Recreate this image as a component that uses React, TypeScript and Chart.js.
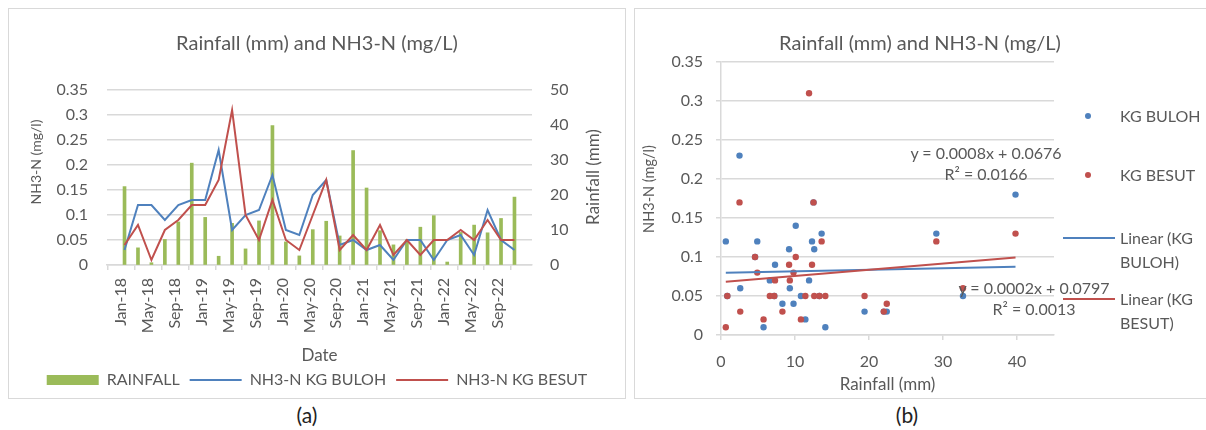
import React, { useEffect, useRef } from "react";
import { Chart, registerables } from "chart.js";

Chart.register(...registerables);

// ---------- DATA ----------
const dates = [
  "Jan-18", "Mar-18", "May-18", "Jul-18", "Sep-18", "Nov-18",
  "Jan-19", "Mar-19", "May-19", "Jul-19", "Sep-19", "Nov-19",
  "Jan-20", "Mar-20", "May-20", "Jul-20", "Sep-20", "Nov-20",
  "Jan-21", "Mar-21", "May-21", "Jul-21", "Sep-21", "Nov-21",
  "Jan-22", "Mar-22", "May-22", "Jul-22", "Sep-22", "Nov-22",
];
const rainfall = [
  22.4, 4.9, 0.65, 7.3, 12.3, 29.1,
  13.6, 2.5, 11.9, 4.6, 12.6, 39.8,
  6.6, 2.6, 10.1, 12.5, 8.3, 32.7,
  22.0, 9.8, 5.75, 7.2, 10.8, 14.1,
  0.85, 9.3, 11.4, 9.2, 13.3, 19.4,
];
const nh3Buloh = [
  0.03, 0.12, 0.12, 0.09, 0.12, 0.13,
  0.13, 0.23, 0.07, 0.10, 0.11, 0.18,
  0.07, 0.06, 0.14, 0.17, 0.04, 0.05,
  0.03, 0.04, 0.01, 0.05, 0.05, 0.01,
  0.05, 0.06, 0.02, 0.11, 0.05, 0.03,
];
const nh3Besut = [
  0.04, 0.08, 0.01, 0.07, 0.09, 0.12,
  0.12, 0.17, 0.31, 0.10, 0.05, 0.13,
  0.05, 0.03, 0.10, 0.17, 0.03, 0.06,
  0.03, 0.08, 0.02, 0.05, 0.02, 0.05,
  0.05, 0.07, 0.05, 0.09, 0.05, 0.05,
];
const dateTickLabels = [
  "Jan-18", "May-18", "Sep-18", "Jan-19", "May-19", "Sep-19", "Jan-20", "May-20",
  "Sep-20", "Jan-21", "May-21", "Sep-21", "Jan-22", "May-22", "Sep-22",
];
const rainTicks = [0, 10, 20, 30, 40];
const trendBuloh = { slope: 0.0002, intercept: 0.0797, r2: "0.0013" };
const trendBesut = { slope: 0.0008, intercept: 0.0676, r2: "0.0166" };

// ---------- STYLE ----------
const FONT = "Lato, 'Noto Sans', sans-serif";
const TEXT = "#595959";
const GRID = "#D9D9D9";
const GREEN = "#9BBB59";
const BLUE = "#4F81BD";
const RED = "#C0504D";
const TITLE = "Rainfall (mm) and NH3-N (mg/L)";

const MONTHS = ["Jan", "Feb", "Mar", "Apr", "May", "Jun", "Jul", "Aug", "Sep", "Oct", "Nov", "Dec"];
const monthIndex = (label: string) => {
  const [m, y] = label.split("-");
  return (Number(y) - 18) * 12 + MONTHS.indexOf(m);
};
const fmtNum = (v: number) => String(Number(Number(v).toFixed(2)));

Chart.defaults.font.family = FONT;
Chart.defaults.color = TEXT;

function ChartA() {
  const ref = useRef<HTMLCanvasElement | null>(null);
  useEffect(() => {
    if (!ref.current) return;
    const chart = new Chart(ref.current, {
      type: "bar",
      data: {
        datasets: [
          {
            type: "bar",
            label: "RAINFALL",
            data: dates.map((d, i) => ({ x: monthIndex(d) + 0.5, y: rainfall[i] })),
            backgroundColor: GREEN,
            borderWidth: 0,
            barThickness: 3,
            yAxisID: "y1",
            order: 3,
          },
          {
            type: "line",
            label: "NH3-N KG BULOH",
            data: dates.map((d, i) => ({ x: monthIndex(d) + 0.5, y: nh3Buloh[i] })),
            borderColor: BLUE,
            backgroundColor: BLUE,
            borderWidth: 2,
            pointRadius: 0,
            tension: 0,
            yAxisID: "y",
            order: 2,
          },
          {
            type: "line",
            label: "NH3-N KG BESUT",
            data: dates.map((d, i) => ({ x: monthIndex(d) + 0.5, y: nh3Besut[i] })),
            borderColor: RED,
            backgroundColor: RED,
            borderWidth: 2,
            pointRadius: 0,
            tension: 0,
            yAxisID: "y",
            order: 1,
          },
        ],
      } as any,
      options: {
        animation: false,
        responsive: false,
        maintainAspectRatio: false,
        layout: { padding: 0 },
        plugins: {
          tooltip: { enabled: false },
          title: {
            display: true,
            text: TITLE,
            color: TEXT,
            font: { family: FONT, size: 20, weight: "normal" },
            padding: { top: 24, bottom: 34 },
          },
          legend: {
            position: "bottom",
            labels: {
              usePointStyle: true,
              pointStyleWidth: 52,
              boxHeight: 10,
              padding: 10,
              color: TEXT,
              font: { family: FONT, size: 16 },
              generateLabels: (c: any) => {
                const items = (Chart.defaults.plugins.legend.labels as any).generateLabels(c);
                items.sort((a: any, b: any) => a.datasetIndex - b.datasetIndex);
                items.forEach((it: any) => {
                  if (it.datasetIndex === 0) {
                    it.pointStyle = "rect";
                    it.fillStyle = GREEN;
                    it.lineWidth = 0;
                  } else {
                    it.pointStyle = "line";
                    it.strokeStyle = it.datasetIndex === 1 ? BLUE : RED;
                    it.lineWidth = 2;
                  }
                });
                return items;
              },
            },
          },
        },
        scales: {
          x: {
            type: "linear",
            min: 0,
            max: 59,
            afterBuildTicks: (s: any) => {
              s.ticks = dateTickLabels.map((l) => ({ value: monthIndex(l) }));
            },
            ticks: {
              autoSkip: false,
              minRotation: 90,
              maxRotation: 90,
              padding: 8,
              color: TEXT,
              font: { family: FONT, size: 16 },
              callback: (v: any) => {
                const lab = dateTickLabels.find((l) => monthIndex(l) === v);
                return lab ?? "";
              },
            },
            grid: { drawOnChartArea: false, drawTicks: true, tickLength: 5, color: GRID, lineWidth: 1.5 },
            border: { display: true, color: GRID, width: 1.5 },
            title: {
              display: true,
              text: "Date",
              color: TEXT,
              font: { family: FONT, size: 17 },
              padding: { top: 0, bottom: -4 },
            },
            afterFit: (s: any) => {
              s.height = 97;
            },
          },
          y: {
            position: "left",
            min: 0,
            max: 0.35,
            ticks: {
              stepSize: 0.05,
              padding: 19,
              color: TEXT,
              font: { family: FONT, size: 16 },
              callback: (v: any) => fmtNum(v),
            },
            grid: { color: GRID, lineWidth: 1.5, drawTicks: false },
            border: { display: false },
            title: { display: false },
            afterFit: (s: any) => {
              s.width = 99;
            },
          },
          y1: {
            position: "right",
            min: 0,
            max: 50,
            ticks: {
              stepSize: 10,
              padding: 18,
              color: TEXT,
              font: { family: FONT, size: 16 },
            },
            grid: { drawOnChartArea: false, drawTicks: false },
            border: { display: false },
            title: { display: false },
            afterFit: (s: any) => {
              s.width = 94;
            },
          },
        },
      } as any,
    });
    return () => chart.destroy();
  }, []);
  return <canvas ref={ref} width={618} height={390} style={{ position: "absolute", left: 8, top: 8 }} />;
}

function ChartB() {
  const ref = useRef<HTMLCanvasElement | null>(null);
  useEffect(() => {
    if (!ref.current) return;
    const xMin = Math.min(...rainfall);
    const xMax = Math.max(...rainfall);
    const trendData = (t: { slope: number; intercept: number }) => [
      { x: xMin, y: t.slope * xMin + t.intercept },
      { x: xMax, y: t.slope * xMax + t.intercept },
    ];
    const chart = new Chart(ref.current, {
      type: "scatter",
      data: {
        datasets: [
          {
            label: "Linear (KG BESUT)",
            data: trendData(trendBesut),
            showLine: true,
            borderColor: RED,
            borderWidth: 2,
            pointRadius: 0,
          },
          {
            label: "Linear (KG BULOH)",
            data: trendData(trendBuloh),
            showLine: true,
            borderColor: BLUE,
            borderWidth: 2,
            pointRadius: 0,
          },
          {
            label: "KG BESUT",
            data: rainfall.map((r, i) => ({ x: r, y: nh3Besut[i] })),
            backgroundColor: RED,
            borderWidth: 0,
            pointRadius: 3.2,
          },
          {
            label: "KG BULOH",
            data: rainfall.map((r, i) => ({ x: r, y: nh3Buloh[i] })),
            backgroundColor: BLUE,
            borderWidth: 0,
            pointRadius: 3.2,
          },
        ],
      } as any,
      options: {
        animation: false,
        responsive: false,
        maintainAspectRatio: false,
        layout: { padding: 0 },
        plugins: {
          tooltip: { enabled: false },
          legend: { display: false },
          title: {
            display: true,
            text: TITLE,
            color: TEXT,
            font: { family: FONT, size: 20, weight: "normal" },
            padding: { top: 24, bottom: 6 },
          },
        },
        scales: {
          x: {
            type: "linear",
            min: 0,
            max: 45,
            afterBuildTicks: (s: any) => {
              s.ticks = rainTicks.map((v) => ({ value: v }));
            },
            ticks: { padding: 12, color: TEXT, font: { family: FONT, size: 16 } },
            grid: { drawOnChartArea: false, drawTicks: true, tickLength: 5, color: GRID, lineWidth: 1.5 },
            border: { display: true, color: GRID, width: 1.5 },
            title: {
              display: true,
              text: "Rainfall (mm)",
              color: TEXT,
              font: { family: FONT, size: 17 },
              padding: { top: 0, bottom: 3 },
            },
            afterFit: (s: any) => {
              s.height = 63;
            },
          },
          y: {
            min: 0,
            max: 0.35,
            ticks: {
              stepSize: 0.05,
              padding: 13,
              color: TEXT,
              font: { family: FONT, size: 16 },
              callback: (v: any) => fmtNum(v),
            },
            grid: { color: GRID, lineWidth: 1.5, drawTicks: true, tickLength: 5 },
            border: { display: true, color: GRID, width: 1.5 },
            title: { display: false },
            afterFit: (s: any) => {
              s.width = 87;
            },
          },
          legendSpace: {
            type: "linear",
            position: "right",
            display: true,
            ticks: { display: false },
            grid: { display: false, drawTicks: false },
            border: { display: false },
            afterFit: (s: any) => {
              s.width = 152;
            },
          },
        },
      } as any,
    });
    return () => chart.destroy();
  }, []);
  return <canvas ref={ref} width={572} height={390} style={{ position: "absolute", left: 634, top: 8 }} />;
}

const abs = (style: React.CSSProperties): React.CSSProperties => ({ position: "absolute", ...style });

function VTitle({ text, cx, cy, size }: { text: string; cx: number; cy: number; size: number }) {
  return (
    <div
      style={abs({
        left: cx - 70,
        top: cy - 12,
        width: 140,
        height: 24,
        lineHeight: "24px",
        textAlign: "center",
        color: TEXT,
        fontFamily: FONT,
        fontSize: size,
        whiteSpace: "nowrap",
        transform: "rotate(-90deg)",
      })}
    >
      {text}
    </div>
  );
}

function LegendB() {
  const txt: React.CSSProperties = { color: TEXT, fontFamily: FONT, fontSize: 16, lineHeight: "24px", whiteSpace: "nowrap" };
  const dot = (color: string, cx: number, cy: number) => (
    <div style={abs({ left: cx - 3.2, top: cy - 3.2, width: 6.4, height: 6.4, borderRadius: "50%", background: color })} />
  );
  const line = (color: string, cy: number) => (
    <div style={abs({ left: 1063, top: cy - 1, width: 52, height: 2, background: color })} />
  );
  return (
    <>
      {dot(BLUE, 1088, 116)}
      <div style={abs({ ...txt, left: 1120, top: 104 })}>KG BULOH</div>
      {dot(RED, 1088, 175)}
      <div style={abs({ ...txt, left: 1120, top: 163 })}>KG BESUT</div>
      {line(BLUE, 238)}
      <div style={abs({ ...txt, left: 1120, top: 226 })}>
        Linear (KG
        <br />
        BULOH)
      </div>
      {line(RED, 299)}
      <div style={abs({ ...txt, left: 1120, top: 287 })}>
        Linear (KG
        <br />
        BESUT)
      </div>
    </>
  );
}

function EqLabel({ t, cx, cy }: { t: { slope: number; intercept: number; r2: string }; cx: number; cy: number }) {
  const s: React.CSSProperties = {
    color: TEXT,
    fontFamily: FONT,
    fontSize: 16,
    lineHeight: "21px",
    textAlign: "center",
    whiteSpace: "nowrap",
    width: 240,
  };
  return (
    <div style={abs({ ...s, left: cx - 120, top: cy - 21 })}>
      y = {t.slope.toFixed(4)}x + {t.intercept.toFixed(4)}
      <br />
      R² = {t.r2}
    </div>
  );
}

export default function App() {
  return (
    <div style={{ position: "fixed", left: 0, top: 0, width: 1206, height: 430, overflow: "hidden", background: "#fff" }}>
      <div style={abs({ left: 8, top: 8, width: 618, height: 391, border: `1.5px solid ${GRID}`, boxSizing: "border-box" })} />
      <div style={abs({ left: 634, top: 8, width: 600, height: 391, border: `1.5px solid ${GRID}`, boxSizing: "border-box" })} />
      <ChartA />
      <ChartB />
      <LegendB />
      <VTitle text="NH3-N (mg/l)" cx={36} cy={162} size={14} />
      <VTitle text="Rainfall (mm)" cx={593} cy={177} size={17} />
      <VTitle text="NH3-N (mg/l)" cx={649} cy={189} size={14.5} />
      <EqLabel t={trendBesut} cx={986} cy={163} />
      <EqLabel t={trendBuloh} cx={1034} cy={298} />
      <div style={abs({ left: 257, top: 401, width: 100, textAlign: "center", fontFamily: FONT, fontSize: 21, color: "#222", lineHeight: "28px" })}>(a)</div>
      <div style={abs({ left: 857, top: 401, width: 100, textAlign: "center", fontFamily: FONT, fontSize: 21, color: "#222", lineHeight: "28px" })}>(b)</div>
    </div>
  );
}
